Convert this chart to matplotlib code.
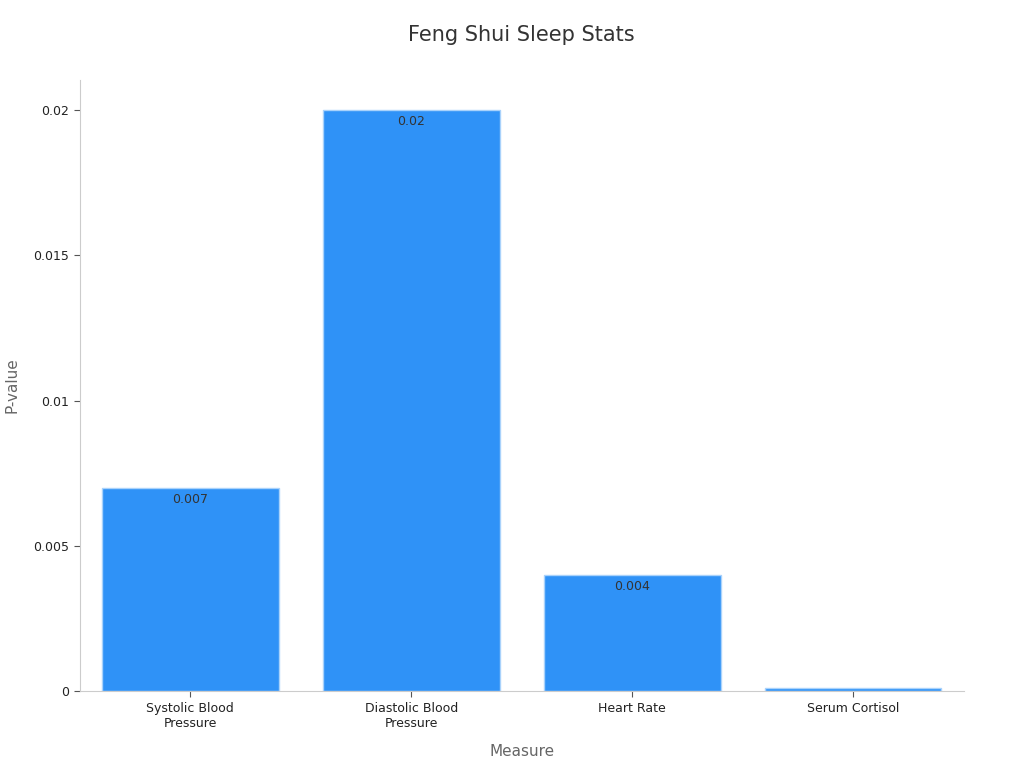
import matplotlib.pyplot as plt
from matplotlib.ticker import FuncFormatter

measures = ["Systolic Blood\nPressure", "Diastolic Blood\nPressure", "Heart Rate", "Serum Cortisol"]
p_values = [0.007, 0.02, 0.004, 0.0001]
value_labels = ["0.007", "0.02", "0.004", ""]

fig, ax = plt.subplots(figsize=(10.24, 7.68), dpi=100)
fig.subplots_adjust(left=0.078, right=0.941, top=0.896, bottom=0.1)

bars = ax.bar(range(len(measures)), p_values, width=0.8, color="#2f92f7",
              edgecolor="#a9d2fb", linewidth=1)

for b, lab in zip(bars, value_labels):
    if lab:
        ax.text(b.get_x() + b.get_width() / 2, b.get_height() - 0.00017, lab,
                ha="center", va="top", fontsize=9, color="#333333")

ax.set_xlim(-0.5, 3.5)
ax.set_ylim(0, 0.02103)
ax.set_yticks([0, 0.005, 0.01, 0.015, 0.02])
ax.yaxis.set_major_formatter(FuncFormatter(lambda v, p: "0" if v == 0 else f"{v:g}"))
ax.set_xticks(range(len(measures)))
ax.set_xticklabels(measures)
ax.tick_params(axis="both", labelsize=9, colors="#222222", length=4, width=0.8)
ax.tick_params(axis="both", color="#555555")

for side in ["top", "right"]:
    ax.spines[side].set_visible(False)
for side in ["left", "bottom"]:
    ax.spines[side].set_color("#cccccc")

ax.set_xlabel("Measure", fontsize=11, color="#666666", labelpad=10)
ax.set_ylabel("P-value", fontsize=11, color="#666666", labelpad=10)
ax.set_title("Feng Shui Sleep Stats", fontsize=15, color="#333333", pad=28)

plt.savefig("out.png")
